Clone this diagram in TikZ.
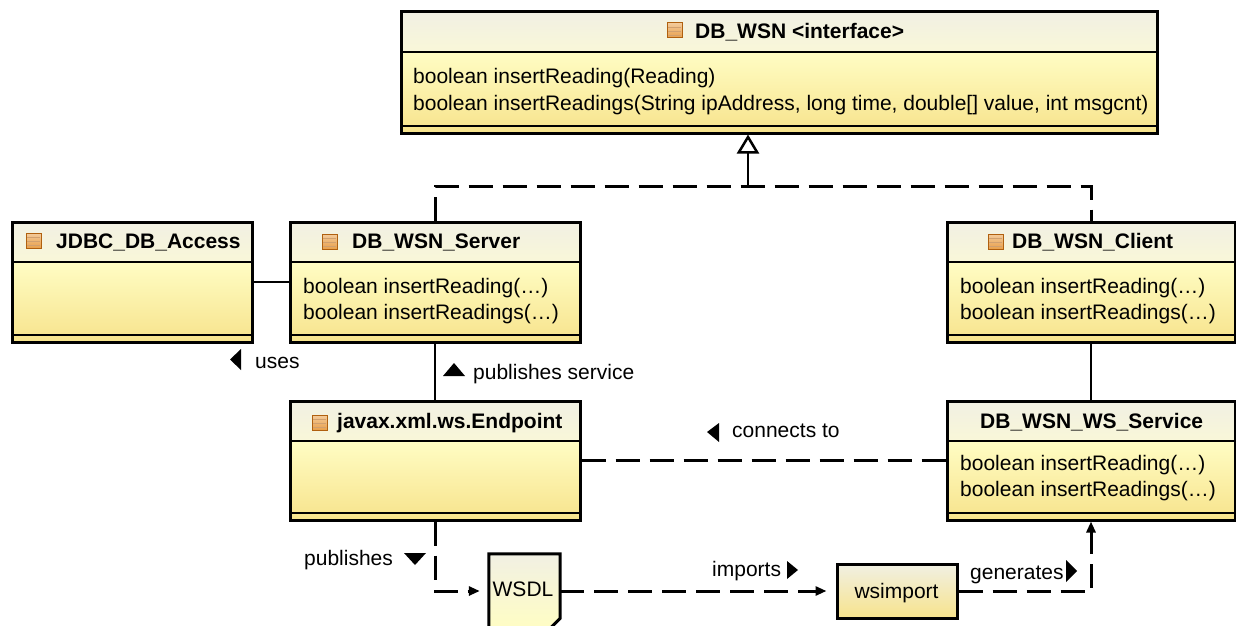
\documentclass[tikz,border=0pt]{standalone}
\usepackage{fontspec}
\setmainfont{Liberation Sans}
\usetikzlibrary{arrows.meta,fit}

\definecolor{headtop}{HTML}{F1F0E3}
\definecolor{headbot}{HTML}{F9F7D8}
\definecolor{bodytop}{HTML}{FFFDC4}
\definecolor{bodybot}{HTML}{F7E38C}
\definecolor{iconfill}{HTML}{E9A04A}
\definecolor{iconline}{HTML}{B0600F}

\tikzset{
  txt/.style={font=\fontsize{21}{25}\selectfont, inner sep=0pt, anchor=base west},
  title/.style={txt, font=\fontsize{21}{25}\selectfont\bfseries},
  border/.style={draw, line width=3pt, inner sep=0pt},
  solidline/.style={line width=2.5pt},
  dashline/.style={line width=3pt, dash pattern=on 24pt off 10pt},
  tip/.style={-{Triangle[length=11pt,width=9pt]}},
}

% class box: name, left, top, right, bottom
\newcommand{\umlclass}[5]{%
  \shade[top color=headtop,bottom color=headbot] (#2,#3) rectangle (#4,#3+40);
  \shade[top color=bodytop,bottom color=bodybot] (#2,#3+40) rectangle (#4,#5);
  \draw[line width=2.5pt] (#2,#3+40) -- (#4,#3+40);
  \draw[line width=2.5pt] (#2,#5-7) -- (#4,#5-7);
  \node[border, fit={(#2,#3) (#4,#5)}] (#1) {};
}
% class icon: left, top
\newcommand{\clsicon}[2]{%
  \shade[top color=iconfill!55!white, bottom color=iconfill, draw=iconline, line width=1pt] (#1,#2) rectangle (#1+15,#2+15);
  \foreach \k in {4,8,12} \draw[iconline!60, line width=0.6pt] (#1+1,#2+\k) -- (#1+14,#2+\k);
}

\begin{document}
\begin{tikzpicture}[x=1pt,y=-1pt]
\useasboundingbox (0,0) rectangle (1236,626);

% classes
\umlclass{wsn}{401}{12}{1157}{133}
\clsicon{667}{23}
\node[title] (wsn-t) at (695,39) {DB\_WSN <interface>};
\node[txt] (wsn-m1) at (413,84) {boolean insertReading(Reading)};
\node[txt] (wsn-m2) at (413,110) {boolean insertReadings(String ipAddress, long time, double[] value, int msgcnt)};

\umlclass{jdbc}{12}{222}{252}{342}
\clsicon{26}{233}
\node[title] (jdbc-t) at (56,248) {JDBC\_DB\_Access};

\umlclass{srv}{290}{222}{580}{342}
\clsicon{322}{234}
\node[title] (srv-t) at (352,248) {DB\_WSN\_Server};
\node[txt] (srv-m1) at (303,293) {boolean insertReading(…)};
\node[txt] (srv-m2) at (303,319) {boolean insertReadings(…)};

\umlclass{cli}{947}{222}{1235}{342}
\clsicon{988}{234}
\node[title] (cli-t) at (1012,248) {DB\_WSN\_Client};
\node[txt] (cli-m1) at (960,293) {boolean insertReading(…)};
\node[txt] (cli-m2) at (960,319) {boolean insertReadings(…)};

\umlclass{ep}{290}{401}{580}{520}
\clsicon{312}{415}
\node[title] (ep-t) at (337,428) {javax.xml.ws.Endpoint};

\umlclass{ws}{947}{401}{1235}{520}
\node[title] (ws-t) at (980,428) {DB\_WSN\_WS\_Service};
\node[txt] (ws-m1) at (960,470) {boolean insertReading(…)};
\node[txt] (ws-m2) at (960,496) {boolean insertReadings(…)};

% wsdl document and wsimport
\node[inner sep=0pt, minimum width=71pt, minimum height=74pt] (wsdl) at (524.5,591) {};
\shade[top color=headtop, bottom color=bodytop, draw, line width=3pt]
  (wsdl.north west) -- (wsdl.north east) -- ([yshift=10pt]wsdl.south east)
  -- ([xshift=-10pt]wsdl.south east) -- (wsdl.south west) -- cycle;
\node[txt, anchor=base] (wsdl-t) at (523,596) {WSDL};

\node[border, minimum width=120pt, minimum height=54pt, top color=headtop, bottom color=bodybot] (wsi) at (897,591) {};
\node[txt, anchor=base] (wsi-t) at (896.5,598) {wsimport};

% connectors
\coordinate (real) at (748,186);
\draw[dashline] (srv.north) |- (real) -| (cli.north);
\draw[solidline, -{Triangle[open,length=19pt,width=22pt]}] (real) -- (real |- wsn.south);
\draw[line width=2pt] (jdbc.east) -- (srv.west);
\draw[solidline] (srv.south) -- (ep.north);
\draw[solidline] (cli.south) -- (ws.north);
\draw[dashline] (ep.east) -- (ws.west);
\draw[dashline, tip, shorten >=9pt] (ep.south) |- (wsdl.west);
\draw[dashline, tip, shorten >=9pt] (wsdl.east) -- (wsi.west);
\draw[dashline, tip] (wsi.east) -| (ws.south);

% labels
\fill (230,359.5) -- (241,349) -- (241,370) -- cycle;
\node[txt] (l-uses) at (255,368) {uses};
\fill (443,376) -- (465,376) -- (454,363) -- cycle;
\node[txt] (l-pubs) at (473,379) {publishes service};
\fill (707,432) -- (719,423) -- (719,442) -- cycle;
\node[txt] (l-conn) at (732,437) {connects to};
\fill (404,553) -- (426,553) -- (415,565) -- cycle;
\node[txt] (l-pub) at (304,565) {publishes};
\fill (787,561) -- (787,579) -- (798,570) -- cycle;
\node[txt] (l-imp) at (712,576) {imports};
\fill (1066,560) -- (1066,582) -- (1077,571) -- cycle;
\node[txt] (l-gen) at (970,579) {generates};
\end{tikzpicture}
\end{document}
